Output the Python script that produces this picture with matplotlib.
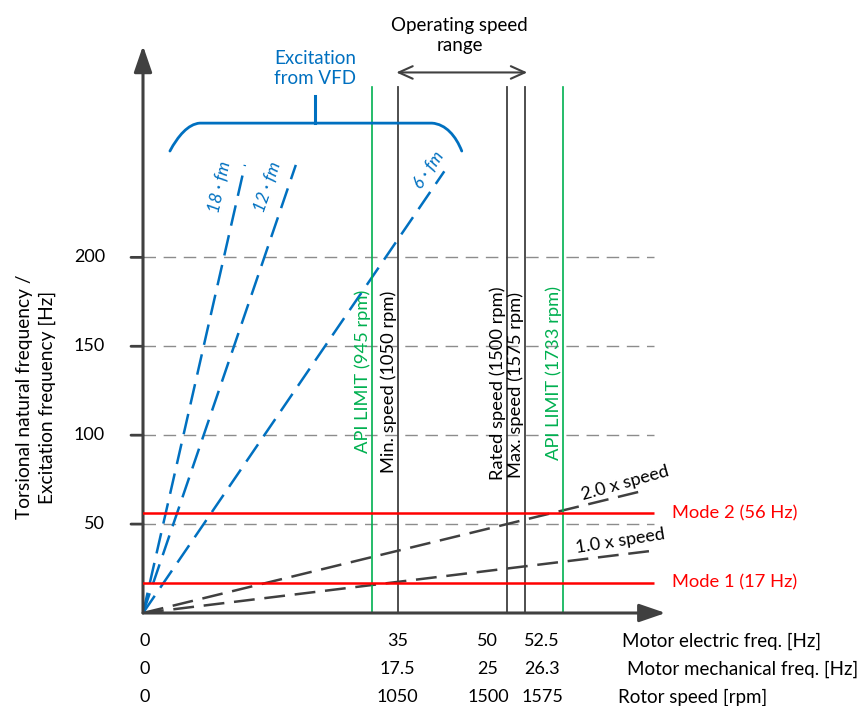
import numpy as np
import matplotlib.pyplot as plt
from matplotlib.path import Path
from matplotlib.patches import PathPatch

plt.rcParams['font.family'] = ['Lato', 'DejaVu Sans']
plt.rcParams['lines.scale_dashes'] = False

BLUE = '#0070C0'
GREEN = '#00B050'
RED = '#FF0000'
DARK = '#404040'
GRID = '#8C8C8C'

# shaft speeds [rpm]; 4-pole motor -> electric freq = rpm / 30
api_limits_rpm = [945, 1733]
op_speeds_rpm = [1050, 1500, 1575]
op_speed_names = ['Min. speed', 'Rated speed', 'Max. speed']

# torsional natural frequencies [Hz]
mode_names = ['Mode 1', 'Mode 2']
mode_freqs = [17, 56]

# VFD excitation orders (x electric freq) and where each dashed line stops [Hz el.]
vfd_orders = [18, 12, 6]
vfd_end_hz = [14.0, 21.0, 41.4]

# mechanical speed harmonics and line end [Hz el.]
speed_orders = [1.0, 2.0]
speed_end_hz = [70.2, 68.4]

grid_levels = [50, 100, 150, 200]

# bottom scales
elec_ticks = [0, 35, 50, 52.5]
elec_labels = ['0', '35', '50', '52.5']
mech_labels = ['0', '17.5', '25', '26.3']
rpm_labels = ['0', '1050', '1500', '1575']
row_titles = ['Motor electric freq. [Hz]', 'Motor mechanical freq. [Hz]', 'Rotor speed [rpm]']

fig = plt.figure(figsize=(8.61, 7.06), dpi=100)
ax = fig.add_axes([143 / 861, 93 / 706, 524 / 861, 569 / 706])
ax.set_xlim(0, 72)
ax.set_ylim(0, 320)
ax.set_axis_off()

x_end = 70.2   # right end of grid / mode lines
v_top = 296    # top of the vertical speed markers

# dashed grid + y ticks
for g in grid_levels:
    ax.plot([0, x_end], [g, g], color=GRID, lw=1.0, dashes=(9, 5.5), zorder=1)
    ax.annotate('', xy=(0, g), xytext=(-12, 0), textcoords='offset pixels',
                xycoords='data', arrowprops=dict(arrowstyle='-', color=DARK, lw=2.0,
                                                 shrinkA=0, shrinkB=0))
    ax.annotate(str(g), xy=(0, g), xytext=(-38, 0), textcoords='offset pixels',
                ha='right', va='center', fontsize=13, color='black')

# mode lines
for name, f in zip(mode_names, mode_freqs):
    ax.plot([-0.3, x_end], [f, f], color=RED, lw=1.8, zorder=4, solid_capstyle='butt')
    ax.annotate(f'{name} ({f} Hz)', xy=(x_end, f), xytext=(18, 0), textcoords='offset pixels',
                ha='left', va='center', fontsize=13.2, color=RED)

# vertical speed markers
def rpm_to_hz(rpm):
    return rpm / 30.0

label_bottoms = {945: 90, 1050: 79, 1500: 75, 1575: 76, 1733: 86}
for rpm in api_limits_rpm:
    x = rpm_to_hz(rpm)
    ax.plot([x, x], [0, v_top], color=GREEN, lw=1.2, zorder=3)
    ax.annotate(f'API LIMIT ({rpm} rpm)', xy=(x, label_bottoms[rpm]), xytext=(-1, 0),
                textcoords='offset pixels', rotation=90, ha='right', va='bottom',
                fontsize=13.2, color=GREEN)
for name, rpm in zip(op_speed_names, op_speeds_rpm):
    x = rpm_to_hz(rpm)
    ax.plot([x, x], [0, v_top], color=DARK, lw=1.3, zorder=3)
    ax.annotate(f'{name} ({rpm} rpm)', xy=(x, label_bottoms[rpm]), xytext=(-1, 0),
                textcoords='offset pixels', rotation=90, ha='right', va='bottom',
                fontsize=13.2, color='black')

# mechanical speed harmonics: y = order * mechanical freq = order * f_el / 2
speed_label_pos = [(65.8, 6), (66.5, 4)]
for order, xe, (xl, dy) in zip(speed_orders, speed_end_hz, speed_label_pos):
    xs = np.array([0, xe])
    ax.plot(xs, order * xs / 2, color=DARK, lw=1.8, dashes=(15, 7), zorder=2)
    p0 = ax.transData.transform((0, 0))
    p1 = ax.transData.transform((xe, order * xe / 2))
    ang = np.degrees(np.arctan2(p1[1] - p0[1], p1[0] - p0[0]))
    ax.annotate(f'{order:.1f} x speed', xy=(xl, order * xl / 2), xytext=(0, dy),
                textcoords='offset pixels', rotation=ang + 2, ha='center', va='bottom',
                fontsize=13, color='black', rotation_mode='anchor')

# VFD excitation lines
vfd_label_y = [239.5, 239.5, 249]
vfd_label_dx = [-20, -20, -16]
for order, xe, yl, dx in zip(vfd_orders, vfd_end_hz, vfd_label_y, vfd_label_dx):
    xs = np.array([0, xe])
    ax.plot(xs, order * xs, color=BLUE, lw=1.8, dashes=(15, 7), zorder=2)
    p0 = ax.transData.transform((0, 0))
    p1 = ax.transData.transform((xe, order * xe))
    ang = np.degrees(np.arctan2(p1[1] - p0[1], p1[0] - p0[0]))
    ax.annotate(f'{order} · fm', xy=(yl / order, yl), xytext=(dx, 0),
                textcoords='offset pixels', rotation=ang, ha='center', va='center',
                fontsize=12.5, color=BLUE, style='italic')

# brace grouping the VFD excitation lines
bx0, bx1, by = 3.7, 43.8, 275.5
verts = [(bx0, 259.8), (4.8, 268.2), (6.2, 275.0), (7.8, by),
         (39.7, by),
         (41.6, 275.0), (43.0, 268.2), (bx1, 259.8)]
codes = [Path.MOVETO, Path.CURVE4, Path.CURVE4, Path.CURVE4,
         Path.LINETO,
         Path.CURVE4, Path.CURVE4, Path.CURVE4]
ax.add_patch(PathPatch(Path(verts, codes), fill=False, edgecolor=BLUE, lw=2.0,
                       capstyle='round', clip_on=False, zorder=3))
ax.plot([23.6, 23.6], [by, 290.7], color=BLUE, lw=2.2, clip_on=False, zorder=3)
ax.text(23.7, 306, 'Excitation\nfrom VFD', ha='center', va='center', fontsize=13.5,
        color=BLUE, linespacing=1.2)

# operating speed range arrow
ax.annotate('', xy=(rpm_to_hz(op_speeds_rpm[0]) - 0.2, 304), xytext=(52.8, 304),
            arrowprops=dict(arrowstyle='<->,head_length=1.0,head_width=0.45',
                            color=DARK, lw=1.5, shrinkA=0, shrinkB=0), annotation_clip=False)
ax.text(43.5, 325, 'Operating speed\nrange', ha='center', va='center', fontsize=13.5,
        color='black', linespacing=1.2, clip_on=False)

# axes with arrow heads
ax.annotate('', xy=(71.8, 0), xytext=(0, 0),
            arrowprops=dict(arrowstyle='-|>,head_length=1.6,head_width=0.55',
                            color=DARK, lw=2.2, shrinkA=0, shrinkB=0), annotation_clip=False)
ax.annotate('', xy=(0, 319), xytext=(0, 0),
            arrowprops=dict(arrowstyle='-|>,head_length=1.6,head_width=0.55',
                            color=DARK, lw=2.2, shrinkA=0, shrinkB=0), annotation_clip=False)

# three rows of x labels below the axis
label_shift = [2, 0, -19, 17]
rows = [elec_labels, mech_labels, rpm_labels]
row_dy = [-28, -56, -84]
row_title_x = [622, 627, 618]
for labels, dy, tx, title in zip(rows, row_dy, row_title_x, row_titles):
    for x, lab, sh in zip(elec_ticks, labels, label_shift):
        ax.annotate(lab, xy=(x, 0), xytext=(sh, dy), textcoords='offset pixels',
                    ha='center', va='center', fontsize=13, color='black',
                    annotation_clip=False)
    fig.text(tx / 861, 1 - (613 - dy) / 706, title, ha='left', va='center',
             fontsize=13.5, color='black')

fig.text(36 / 861, 1 - 397 / 706, 'Torsional natural frequency /\nExcitation frequency [Hz]',
         rotation=90, ha='center', va='center', fontsize=13.8, linespacing=1.45,
         multialignment='center')

fig.savefig('out.png', dpi=100, facecolor='white')
